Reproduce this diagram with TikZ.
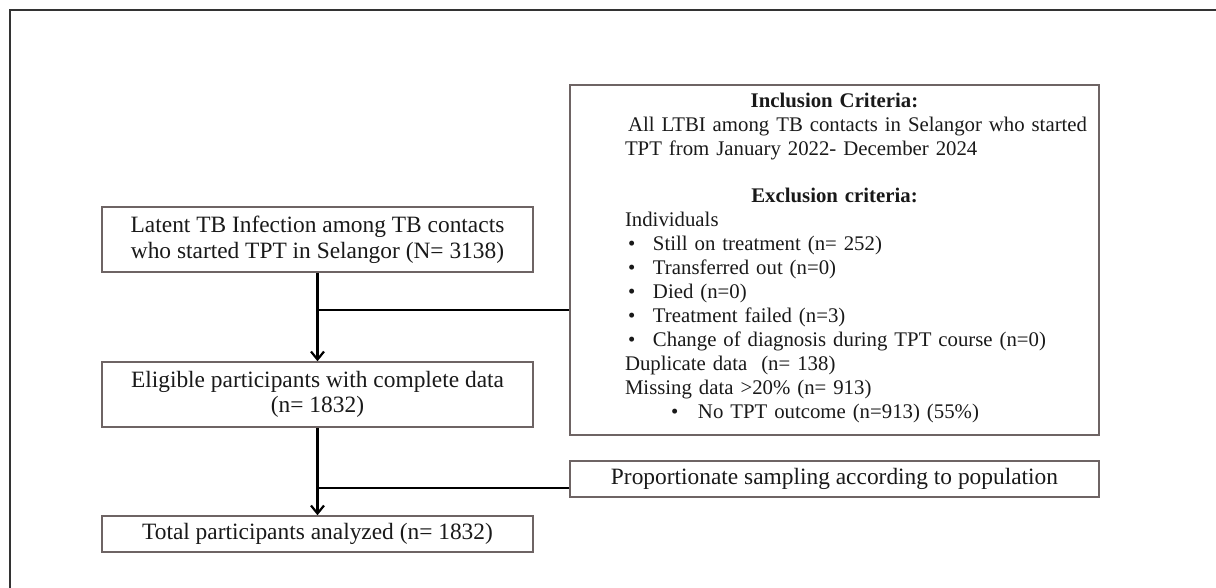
\documentclass[tikz,border=0pt]{standalone}
\usepackage{fontspec}
\setmainfont{Liberation Serif}
\usetikzlibrary{arrows.meta}
\definecolor{boxline}{HTML}{6E6464}
\definecolor{frameline}{HTML}{333333}
\tikzset{
    every node/.style={font=\fontsize{11.7}{12.8}\selectfont, text=black!90},
    stagebox/.style={draw=boxline, line width=0.75pt, rectangle,
        minimum width=215.5pt, align=center, inner sep=2pt},
    critbox/.style={draw=boxline, line width=0.75pt, rectangle,
        minimum width=264.5pt, inner sep=0pt},
    flow/.style={draw=black, line width=1.1pt},
    flowarrow/.style={flow, -{Straight Barb[length=4pt,width=6.5pt,line width=1.1pt]}}
}

\begin{document}
\begin{tikzpicture}[x=0.5pt,y=-0.5pt]
  \useasboundingbox (0,0) rectangle (1216,588);
  % outer frame
  \draw[frameline, line width=1.4pt] (10,588) -- (10,10) -- (1216,10);

  % main column
  \node (start) [stagebox, minimum height=32.5pt] at (317.5,239.5)
    {Latent TB Infection among TB contacts\\who started TPT in Selangor (N= 3138)};
  \node (eligible) [stagebox, minimum height=32.5pt] at (317.5,394.5)
    {Eligible participants with complete data\\(n= 1832)};
  \node (total) [stagebox, minimum height=18pt] at (317.5,534)
    {Total participants analyzed (n= 1832)};

  % side boxes
  \node (crit) [critbox, minimum height=175pt, text width=209.5pt,
    font=\fontsize{10.4}{12}\selectfont] at (834.5,260) {%
    {\centering\textbf{Inclusion Criteria:}\par}
    \hspace*{1.5pt}\mbox{All LTBI among TB contacts in Selangor who started}\par
    TPT from January 2022- December 2024\par
    \vspace{11.5pt}
    {\centering\textbf{Exclusion criteria:}\par}
    Individuals\par
    \hspace*{1.5pt}\makebox[12.5pt][l]{\textbullet}Still on treatment (n= 252)\par
    \hspace*{1.5pt}\makebox[12.5pt][l]{\textbullet}Transferred out (n=0)\par
    \hspace*{1.5pt}\makebox[12.5pt][l]{\textbullet}Died (n=0)\par
    \hspace*{1.5pt}\makebox[12.5pt][l]{\textbullet}Treatment failed (n=3)\par
    \hspace*{1.5pt}\makebox[12.5pt][l]{\textbullet}\mbox{Change of diagnosis during TPT course (n=0)}\par
    Duplicate data\ \ (n= 138)\par
    Missing data >20\% (n= 913)\par
    \hspace*{23pt}\makebox[13.5pt][l]{\textbullet}No TPT outcome (n=913) (55\%)\par
    \vspace{2pt}
  };
  \node (sampling) [critbox, minimum height=18pt] at (834.5,479)
    {Proportionate sampling according to population};

  % junctions on the main line
  \coordinate (j1) at (start.south |- 0,310);
  \coordinate (j2) at (start.south |- 0,488);

  \draw[flowarrow] (start) -- (eligible);
  \draw[flowarrow] (eligible) -- (total);
  \draw[flow] (crit.west |- j1) -- (j1);
  \draw[flow] (sampling.west |- j2) -- (j2);
\end{tikzpicture}
\end{document}
